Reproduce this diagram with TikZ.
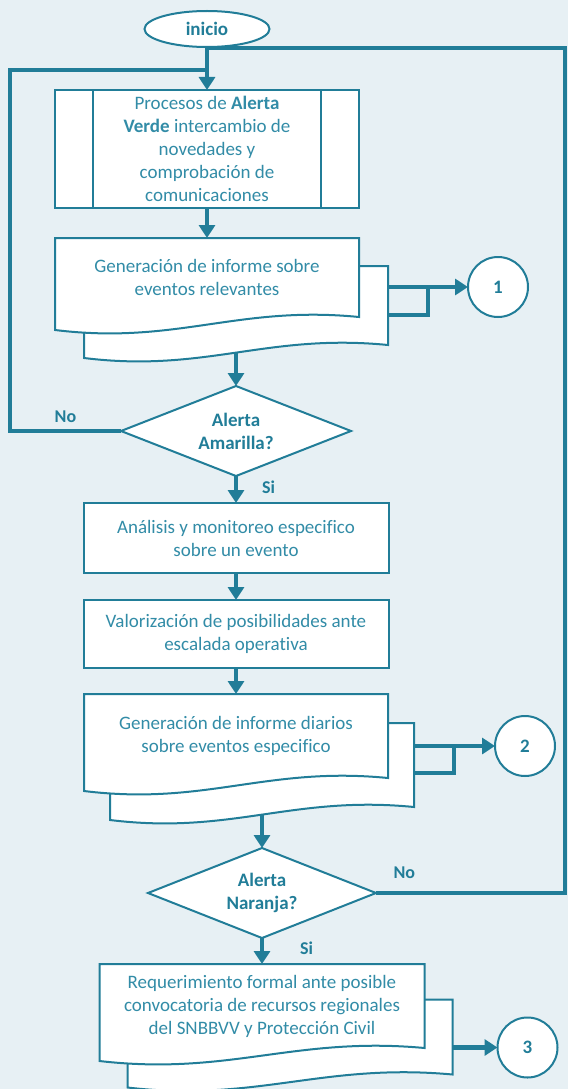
\documentclass[tikz,border=0pt]{standalone}
\usepackage{fontspec}
\setmainfont{Carlito}[Ligatures=NoCommon]
\usetikzlibrary{arrows.meta,positioning,shapes.geometric,calc}

\definecolor{flowteal}{RGB}{33,125,152}
\definecolor{textteal}{RGB}{50,140,167}
\definecolor{paper}{RGB}{231,240,244}

\pgfdeclarelayer{docs}
\pgfsetlayers{docs,main}

% document symbol: node is the straight part, the wave hangs 13pt under it
\newcommand{\docshape}[1]{%
  \draw[draw=flowteal, line width=2pt, fill=white] (#1.north west) -- (#1.north east) -- (#1.south east)
    .. controls ($(#1.south west)!0.6!(#1.south east)+(0pt,12pt)$) and ($(#1.south west)!0.4!(#1.south east)+(0pt,-28pt)$) .. ([yshift=-13pt]#1.south west) -- cycle;}

\begin{document}
\begin{tikzpicture}[x=1pt, y=1pt, >={Triangle[length=13pt,width=16pt]}, node distance=27pt,
    font=\fontsize{19}{23}\selectfont, every node/.style={outer sep=0pt},
    term/.style={ellipse, draw=flowteal, line width=2pt, fill=white, text=flowteal, font=\fontsize{19}{23}\selectfont\bfseries, minimum width=125pt, minimum height=36pt, inner sep=0pt},
    predef/.style={rectangle, draw=flowteal, line width=2pt, fill=white, text=textteal, align=center, minimum width=304pt, minimum height=118pt, inner sep=0pt,
      path picture={\draw[flowteal, line width=2pt] ([xshift=38pt]path picture bounding box.north west) -- ([xshift=38pt]path picture bounding box.south west)
        ([xshift=-38pt]path picture bounding box.north east) -- ([xshift=-38pt]path picture bounding box.south east);}},
    procbox/.style={rectangle, draw=flowteal, line width=2pt, fill=white, text=textteal, align=center, minimum width=305pt, inner sep=0pt},
    docbox/.style={rectangle, text=textteal, align=center, minimum width=304pt, minimum height=79pt, inner sep=0pt},
    decision/.style={diamond, draw=flowteal, line width=2pt, fill=white, text=flowteal, font=\fontsize{19}{23}\selectfont\bfseries, align=center, aspect=2.5, minimum width=230pt, minimum height=90pt, inner sep=0pt},
    conn/.style={circle, draw=flowteal, line width=2pt, fill=white, text=flowteal, font=\fontsize{19}{23}\selectfont\bfseries, minimum size=60pt, inner sep=0pt},
    flow/.style={->, draw=flowteal, line width=4.5pt},
    wire/.style={draw=flowteal, line width=4.5pt},
    lbl/.style={text=flowteal, font=\fontsize{18}{23}\selectfont\bfseries, inner sep=2pt}]

  \useasboundingbox (0,0) rectangle (568,-1089);
  \begin{pgfonlayer}{docs}
    \fill[paper] (0,0) rectangle (568,-1089);
  \end{pgfonlayer}

  \node[term] (inicio) at (207,-29) {inicio};
  \node[predef, below=43pt of inicio] (proc) {Procesos de \textbf{Alerta}\\\textbf{Verde} intercambio de\\novedades y\\comprobación de\\comunicaciones};
  \node[docbox, below=30pt of proc] (d1) {Generación de informe sobre\\eventos relevantes};
  \node[docbox] (d1b) at ([shift={(29pt,-28pt)}]d1.center) {};
  \node[decision, below=41pt of d1b] (a1) {Alerta\\Amarilla?};
  \node[procbox, minimum height=70pt, below=of a1] (an1) {Análisis y monitoreo especifico\\sobre un evento};
  \node[procbox, minimum height=68pt, below=of an1] (va1) {Valorización de posibilidades ante\\escalada operativa};
  \node[docbox, minimum height=84pt, below=26pt of va1] (d2) {Generación de informe diarios\\sobre eventos especifico};
  \node[docbox, minimum height=84pt] (d2b) at ([shift={(26pt,-29pt)}]d2.center) {};
  \node[decision, minimum width=228pt, below=41pt of d2b] (a2) {Alerta\\Naranja?};
  \node[docbox, minimum width=325pt, minimum height=84pt, below=26pt of a2] (d3) {Requerimiento formal ante posible\\convocatoria de recursos regionales\\del SNBBVV y Protección Civil};
  \node[docbox, minimum width=325pt, minimum height=75pt] (d3b) at ([shift={(28pt,-31pt)}]d3.center) {};

  % stacked documents
  \begin{pgfonlayer}{docs}
    \docshape{d1b} \docshape{d1}
    \docshape{d2b} \docshape{d2}
    \docshape{d3b} \docshape{d3}
  \end{pgfonlayer}

  % connectors to the off-page marks
  \coordinate (k1) at ([xshift=40pt,yshift=-21pt]d1b.north east);
  \node[conn, right=40pt of k1] (c1) {1};
  \coordinate (k2) at ([xshift=40pt,yshift=-23pt]d2b.north east);
  \node[conn, right=41pt of k2] (c2) {2};
  \coordinate (k3) at ([yshift=-48pt]d3b.north east);
  \node[conn, right=45pt of k3] (c3) {3};
  \coordinate (loopL) at (10,-70);
  \coordinate (loopR) at (565,-48);

  \draw[flow] (inicio) -- (proc);
  \draw[flow] (proc) -- (d1);
  \draw[flow] ([yshift=-8pt]d1b.south) -- (a1);
  \draw[flow] (a1) -- node[lbl, right=24pt, pos=0.4] {Si} (an1);
  \draw[flow] (an1) -- (va1);
  \draw[flow] (va1) -- (d2);
  \draw[flow] ([yshift=-8pt]d2b.south) -- (a2);
  \draw[flow] (a2) -- node[lbl, right=36pt, pos=0.4] {Si} (d3);

  \draw[wire] ([yshift=-21pt]d1b.north east) -- (k1) |- ([yshift=-49pt]d1b.north east);
  \draw[flow] (k1) -- (c1);
  \draw[wire] ([yshift=-23pt]d2b.north east) -- (k2) |- ([yshift=-50pt]d2b.north east);
  \draw[flow] (k2) -- (c2);
  \draw[flow] (k3) -- (c3);

  % loops back to the start
  \draw[wire] (a1.west) -- node[lbl, above=6pt] {No} (a1.west -| loopL) -- (loopL) -- (loopL -| proc.north);
  \draw[wire] (a2.east) -- node[lbl, above=12pt, pos=0.15] {No} (a2.east -| loopR) -- (loopR) -- (loopR -| inicio.south);
\end{tikzpicture}
\end{document}
